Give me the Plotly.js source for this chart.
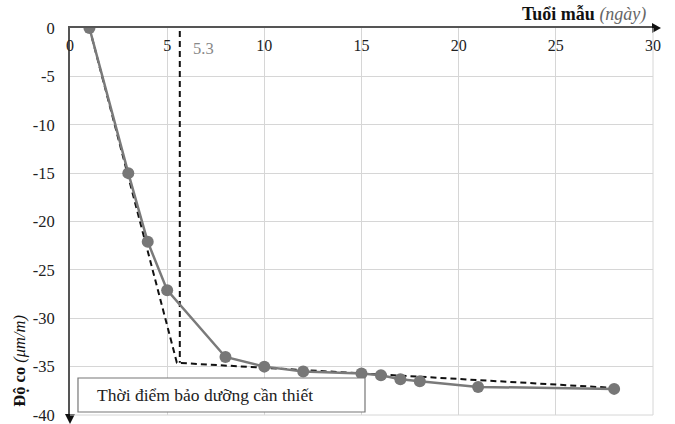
<!DOCTYPE html>
<html>
<head>
<meta charset="utf-8">
<script src="https://cdn.plot.ly/plotly-3.0.1.min.js"></script>
<style>html,body{margin:0;padding:0;background:#fff;}#chart{width:675px;height:424px;}</style>
</head>
<body>
<div id="chart"></div>
<script>
// Measured data
const ages = [1, 3, 4, 5, 8, 10, 12, 15, 16, 17, 18, 21, 28];
const shrinkage = [0, -15, -22.1, -27.1, -34, -35, -35.5, -35.7, -35.9, -36.3, -36.5, -37.1, -37.3];
// Dashed bilinear trend
const trendX = [1, 5.5, 28];
const trendY = [0, -34.6, -37.2];
// Vertical dashed line at required curing time
const cureX = [5.65, 5.65];
const cureY = [-0.3, -34.6];
const cureLabel = "5.3";
// Axis ticks
const xTicks = [0, 5, 10, 15, 20, 25, 30];
const xTickText = ["0", "5", "10", "15", "20", "25", "30"];
const yTicks = [0, -5, -10, -15, -20, -25, -30, -35, -40];
const yTickText = ["0", "-5", "-10", "-15", "-20", "-25", "-30", "-35", "-40"];
const boxText = "Thời điểm bảo dưỡng cần thiết";
const xTitle = "<b>Tuổi mẫu</b> <i><span style='color:#666'>(ngày)</span></i>";
const yTitle = "<b>Độ co</b> <i>(μm/m)</i>";

const serif = "'Liberation Serif', 'Times New Roman', serif";

const traces = [
  {x: trendX, y: trendY, mode: "lines", line: {color: "#111", width: 2, dash: "6px,4px"}, hoverinfo: "skip"},
  {x: cureX, y: cureY, mode: "lines", line: {color: "#111", width: 2, dash: "6px,4px"}, hoverinfo: "skip"},
  {x: ages, y: shrinkage, mode: "lines+markers", line: {color: "#7a7a7a", width: 2.5},
   marker: {color: "#777", size: 12}}
];

const layout = {
  width: 675, height: 424,
  margin: {l: 70, r: 22, t: 28, b: 9},
  paper_bgcolor: "#fff", plot_bgcolor: "#fff",
  showlegend: false,
  font: {family: serif, size: 16, color: "#222"},
  xaxis: {
    range: [0, 30], side: "top", tickvals: xTicks, ticktext: xTickText,
    ticklabelposition: "inside", ticklabeloverflow: "allow", ticks: "", ticklabelstandoff: 12,
    showline: true, linecolor: "#555", linewidth: 2,
    showgrid: true, gridcolor: "#d6d6d6", gridwidth: 1, zeroline: false,
    tickfont: {family: serif, size: 16, color: "#222"}, fixedrange: true
  },
  yaxis: {
    range: [-40, 0], tickvals: yTicks, ticktext: yTickText, ticks: "",
    ticklabeloverflow: "allow",
    showline: true, linecolor: "#555", linewidth: 2, ticklabelstandoff: 10,
    showgrid: true, gridcolor: "#d6d6d6", gridwidth: 1, zeroline: false,
    tickfont: {family: serif, size: 16.5, color: "#222"}, fixedrange: true
  },
  shapes: [
    {type: "path", xref: "paper", yref: "paper",
     path: "M 1.0137 1 L 0.9983 1.0129 L 0.9983 0.9871 Z", fillcolor: "#111", line: {width: 0}},
    {type: "path", xref: "paper", yref: "paper",
     path: "M 0 -0.0233 L -0.0086 0.0026 L 0.0086 0.0026 Z", fillcolor: "#111", line: {width: 0}},
    {type: "line", xref: "paper", yref: "paper", x0: 1, x1: 1, y0: 0, y1: 1, line: {color: "#d6d6d6", width: 1}},
    {type: "line", xref: "paper", yref: "paper", x0: 0, x1: 1, y0: 0, y1: 0, line: {color: "#d6d6d6", width: 1}},
    {type: "rect", xref: "paper", yref: "paper", x0: 0.0137, x1: 0.506, y0: 0.0078, y1: 0.0956,
     fillcolor: "#fff", line: {color: "#777", width: 1.2}}
  ],
  annotations: [
    {text: boxText, xref: "paper", yref: "paper", x: 0.043, y: 0.052, xanchor: "left", yanchor: "middle",
     showarrow: false, font: {family: serif, size: 17.5, color: "#222"}},
    {text: cureLabel, xref: "x", yref: "paper", x: 5.65, y: 0.946, xanchor: "left", yanchor: "middle",
     xshift: 11, showarrow: false, font: {family: serif, size: 16.5, color: "#888"}},
    {text: xTitle, xref: "paper", yref: "paper", x: 0.992, y: 1.036, xanchor: "right", yanchor: "middle",
     showarrow: false, font: {family: serif, size: 18, color: "#111"}},
    {text: yTitle, xref: "paper", yref: "paper", x: -0.086, y: 0.14, xanchor: "center", yanchor: "middle",
     textangle: -90, showarrow: false, font: {family: serif, size: 16.5, color: "#111"}}
  ]
};

Plotly.newPlot("chart", traces, layout, {displayModeBar: false, staticPlot: true});
</script>
</body>
</html>
